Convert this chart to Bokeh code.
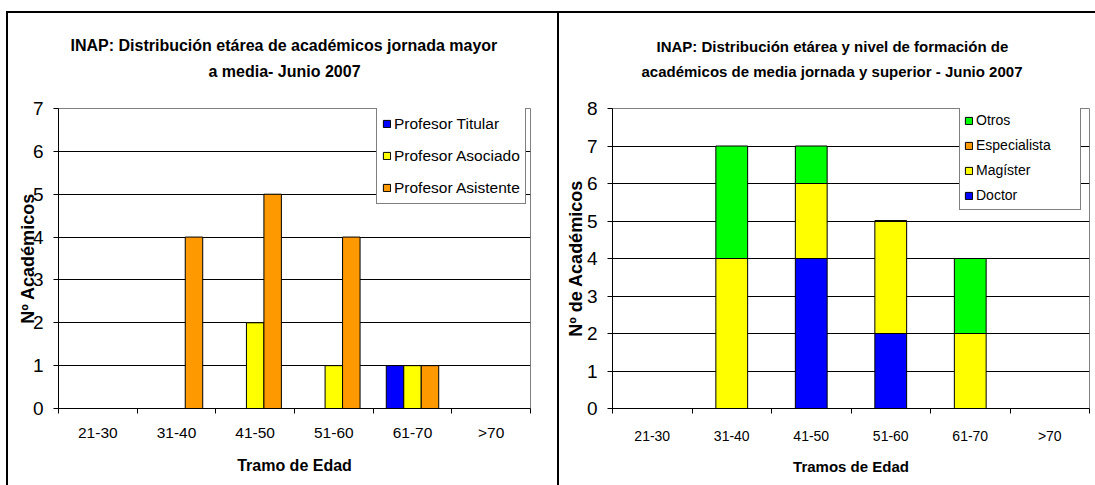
from bokeh.plotting import figure
from bokeh.models import (Range1d, FixedTicker, Legend, LegendItem, Title,
                          ColumnDataSource, InlineStyleSheet)
from bokeh.layouts import row
from bokeh.transform import dodge
from bokeh.embed import file_html
from bokeh.resources import INLINE

# ---------------- data ----------------
ages = ["21-30", "31-40", "41-50", "51-60", "61-70", ">70"]

# left chart (clustered)
titular = [0, 0, 0, 0, 1, 0]
asociado = [0, 0, 2, 1, 1, 0]
asistente = [0, 4, 5, 4, 1, 0]

# right chart (stacked)
doctor = [0, 0, 4, 2, 0, 0]
magister = [0, 4, 2, 3, 2, 0]
especialista = [0, 0, 0, 0, 0, 0]
otros = [0, 3, 1, 0, 2, 0]

left_title = ["INAP: Distribución etárea de académicos jornada mayor",
              "a media- Junio 2007"]
right_title = ["INAP: Distribución etárea y nivel de formación de",
               "académicos de media jornada y superior - Junio 2007"]

FONT = "Liberation Sans"
BLUE, YELLOW, ORANGE, GREEN = "#0000FF", "#FFFF00", "#FF9900", "#00FF00"

centers = [i + 0.5 for i in range(len(ages))]
bounds = [float(i) for i in range(len(ages) + 1)]
overrides = {c: a for c, a in zip(centers, ages)}


def style(p, ymax, xfs, yfs, xstand):
    p.background_fill_color = "white"
    p.border_fill_color = "white"
    p.outline_line_color = "#808080"
    p.outline_line_width = 1
    p.xgrid.visible = False
    p.ygrid.ticker = FixedTicker(ticks=list(range(1, ymax)))
    p.ygrid.grid_line_color = "black"
    p.ygrid.grid_line_width = 1
    xa = p.xaxis[0]
    xa.ticker = FixedTicker(ticks=centers, minor_ticks=bounds)
    xa.major_label_overrides = overrides
    xa.major_tick_line_color = None
    xa.major_tick_out = 0
    xa.major_tick_in = 0
    xa.minor_tick_out = 5
    xa.minor_tick_in = 0
    xa.minor_tick_line_color = "black"
    xa.axis_line_color = "black"
    xa.major_label_text_font = FONT
    xa.major_label_text_font_size = xfs
    xa.major_label_text_color = "black"
    xa.major_label_standoff = xstand
    xa.axis_label_text_font = FONT
    xa.axis_label_text_font_style = "bold"
    xa.axis_label_text_color = "black"
    ya = p.yaxis[0]
    ya.ticker = FixedTicker(ticks=list(range(0, ymax + 1)))
    ya.major_tick_out = 5
    ya.major_tick_in = 0
    ya.minor_tick_line_color = None
    ya.axis_line_color = "black"
    ya.major_tick_line_color = "black"
    ya.major_label_text_font = FONT
    ya.major_label_text_font_size = yfs
    ya.major_label_text_color = "black"
    ya.major_label_standoff = 10
    ya.axis_label_text_font = FONT
    ya.axis_label_text_font_style = "bold"
    ya.axis_label_text_color = "black"


def titles(p, lines, size, s_near, s_far, off_near, off_far):
    p.add_layout(Title(text=lines[1], align="left", offset=off_near,
                       text_font=FONT, text_font_size=size,
                       text_font_style="bold", text_color="black",
                       standoff=s_near), "above")
    p.add_layout(Title(text=lines[0], align="left", offset=off_far,
                       text_font=FONT, text_font_size=size,
                       text_font_style="bold", text_color="black",
                       standoff=s_far), "above")


# ---------------- left chart ----------------
src1 = ColumnDataSource(dict(x=centers, titular=titular, asociado=asociado,
                             asistente=asistente))
p1 = figure(frame_width=472, frame_height=300,
            min_border_left=58, min_border_right=29,
            min_border_top=104, min_border_bottom=81,
            x_range=Range1d(0, 6), y_range=Range1d(0, 7),
            output_backend="svg", toolbar_location=None)
style(p1, 7, "15.5px", "19px", 10)
p1.xaxis[0].axis_label = "Tramo de Edad"
p1.xaxis[0].axis_label_text_font_size = "16px"
p1.xaxis[0].axis_label_standoff = 13
p1.yaxis[0].axis_label = "Nº Académicos"
p1.yaxis[0].axis_label_text_font_size = "18px"
p1.yaxis[0].axis_label_standoff = -8
bw = 1 / 4.5
r1 = p1.vbar(x=dodge("x", -bw), top="titular", width=bw, source=src1,
             fill_color=BLUE, line_color="black", line_width=1)
r2 = p1.vbar(x="x", top="asociado", width=bw, source=src1,
             fill_color=YELLOW, line_color="black", line_width=1)
r3 = p1.vbar(x=dodge("x", bw), top="asistente", width=bw, source=src1,
             fill_color=ORANGE, line_color="black", line_width=1)
leg1 = Legend(items=[LegendItem(label="Profesor Titular", renderers=[r1]),
                     LegendItem(label="Profesor Asociado", renderers=[r2]),
                     LegendItem(label="Profesor Asistente", renderers=[r3])],
              location=(318, 204), margin=0, padding=5, spacing=11,
              glyph_width=9, glyph_height=9, label_height=21,
              label_standoff=3, label_text_font=FONT,
              label_text_font_size="15.5px", label_text_color="black",
              border_line_color="black", border_line_width=1,
              background_fill_color="white", background_fill_alpha=1)
p1.add_layout(leg1)
titles(p1, left_title, "16px", 58, -44, 150, 12)
p1.stylesheets = [InlineStyleSheet(css=(
    ":host{position:relative;}"
    ":host::after{content:'';position:absolute;box-sizing:border-box;"
    "left:6px;top:11px;width:553px;bottom:0;"
    "border-left:2px solid #000;border-top:2px solid #000;"
    "border-right:2px solid #000;z-index:100;pointer-events:none;}"))]

# ---------------- right chart ----------------
src2 = ColumnDataSource(dict(x=centers, doctor=doctor, magister=magister,
                             especialista=especialista, otros=otros))
p2 = figure(frame_width=477, frame_height=300,
            min_border_left=53, min_border_right=6,
            min_border_top=108, min_border_bottom=77,
            x_range=Range1d(0, 6), y_range=Range1d(0, 8),
            output_backend="svg", toolbar_location=None)
style(p2, 8, "14px", "19px", 14)
p2.xaxis[0].axis_label = "Tramos de Edad"
p2.xaxis[0].axis_label_text_font_size = "15px"
p2.xaxis[0].axis_label_standoff = 11
p2.yaxis[0].axis_label = "Nº de Académicos"
p2.yaxis[0].axis_label_text_font_size = "18px"
p2.yaxis[0].axis_label_standoff = -2
rs = p2.vbar_stack(["doctor", "magister", "especialista", "otros"], x="x",
                   width=0.4, source=src2,
                   fill_color=[BLUE, YELLOW, ORANGE, GREEN],
                   line_color="black", line_width=1)
names = ["Doctor", "Magíster", "Especialista", "Otros"]
items = [LegendItem(label=n, renderers=[r]) for n, r in zip(names, rs)][::-1]
leg2 = Legend(items=items, location=(347, 198), margin=0, padding=4,
              spacing=5, glyph_width=9, glyph_height=9, label_height=20,
              label_standoff=3, label_width=100, label_text_font=FONT,
              label_text_font_size="14px", label_text_color="black",
              border_line_color="black", border_line_width=1,
              background_fill_color="white", background_fill_alpha=1)
p2.add_layout(leg2)
titles(p2, right_title, "15px", 58, -46, 29, 44)
p2.stylesheets = [InlineStyleSheet(css=(
    ":host{position:relative;}"
    ":host::after{content:'';position:absolute;left:0;right:0;"
    "top:11px;height:2px;background:#000;z-index:100;"
    "pointer-events:none;}"))]

layout = row(p1, p2, spacing=0)
open("out.html", "w").write(file_html(layout, INLINE))
